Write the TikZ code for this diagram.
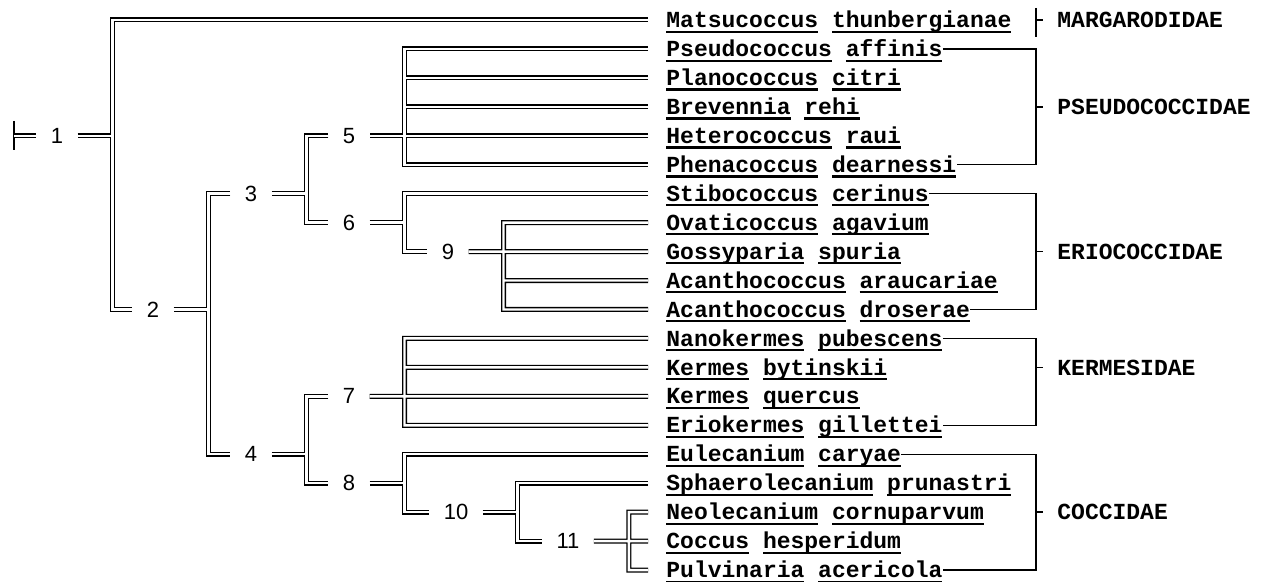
\documentclass[tikz,border=0pt]{standalone}
\usepackage{fontspec}
\usepackage{tikz}
\usetikzlibrary{positioning}
\newfontfamily\typefam{Liberation Mono}
\newfontfamily\numfam{Liberation Sans}
\newcommand{\ulw}[1]{\setbox0\hbox{#1}\rlap{\rule[-2.6pt]{\wd0}{1.1pt}}\box0\relax}
\tikzset{
  taxon/.style={anchor=west, inner xsep=9pt, inner ysep=0pt, font=\typefam\bfseries\fontsize{11.5}{12}\selectfont, text height=9pt, text depth=1.4pt},
  fam/.style={taxon, inner xsep=10.5pt},
  num/.style={inner xsep=7pt, inner ysep=1pt, font=\numfam\fontsize{11}{12}\selectfont},
  tl/.style={double, double distance=1.2pt, line width=0.65pt},
  brk/.style={line width=0.7pt},
}

\begin{document}
\begin{tikzpicture}[x=0.5pt, y=-0.5pt]
  \useasboundingbox (0,0) rectangle (1262,582);
  % taxa, one per typed row
  \foreach \genus/\epith [count=\i from 0] in {Matsucoccus/thunbergianae, Pseudococcus/affinis, Planococcus/citri, Brevennia/rehi, Heterococcus/raui, Phenacoccus/dearnessi, Stibococcus/cerinus, Ovaticoccus/agavium, Gossyparia/spuria, Acanthococcus/araucariae, Acanthococcus/droserae, Nanokermes/pubescens, Kermes/bytinskii, Kermes/quercus, Eriokermes/gillettei, Eulecanium/caryae, Sphaerolecanium/prunastri, Neolecanium/cornuparvum, Coccus/hesperidum, Pulvinaria/acericola}
    \node[taxon] (t\i) at (648, 20+28.95*\i) {\ulw{\genus} \ulw{\epith}};
  % branch points
  \node[num] (n1) at (57,135.8) {1};
  \node[num] (n2) at (153,309.5) {2};
  \node[num] (n3) at (251,193.7) {3};
  \node[num] (n4) at (251,454.25) {4};
  \node[num] (n5) at (349,135.8) {5};
  \node[num] (n6) at (349,222.65) {6};
  \node[num] (n7) at (349,396.35) {7};
  \node[num] (n8) at (349,483.2) {8};
  \node[num] (n9) at (448,251.6) {9};
  \node[num] (n10) at (456,512.15) {10};
  \node[num] (n11) at (568,541.1) {11};
  \foreach \n in {1,...,11} \coordinate[right=17.5pt of n\n] (j\n);
  \coordinate (root) at (14,135.8);
  \draw[brk] ([yshift=7.5pt]root) -- ([yshift=-7pt]root);
  \draw[tl] (root) -- (n1.west);
  \draw[tl] (t0.west) -| (j1) |- (n2.west) (n1.east) -- (j1);
  \draw[tl] (n3.west) -| (j2) |- (n4.west) (n2.east) -- (j2);
  \draw[tl] (n5.west) -| (j3) |- (n6.west) (n3.east) -- (j3);
  \draw[tl] (n7.west) -| (j4) |- (n8.west) (n4.east) -- (j4);
  \draw[tl] (t1.west) -| (j5) |- (t5.west) (t2.west) -- (t2.west -| j5) (t3.west) -- (t3.west -| j5) (t4.west) -- (n5.east);
  \draw[tl] (t6.west) -| (j6) |- (n9.west) (n6.east) -- (j6);
  \draw[tl] (t7.west) -| (j9) |- (t10.west) (t9.west) -- (t9.west -| j9) (t8.west) -- (n9.east);
  \draw[tl] (t11.west) -| (j7) |- (t14.west) (t12.west) -- (t12.west -| j7) (t13.west) -- (n7.east);
  \draw[tl] (t15.west) -| (j8) |- (n10.west) (n8.east) -- (j8);
  \draw[tl] (t16.west) -| (j10) |- (n11.west) (n10.east) -- (j10);
  \draw[tl] (t17.west) -| (j11) |- (t19.west) (t18.west) -- (n11.east);
  % families
  \foreach \f/\r/\name in {0/0/MARGARODIDAE, 1/3/PSEUDOCOCCIDAE, 2/8/ERIOCOCCIDAE, 3/12/KERMESIDAE, 4/17/COCCIDAE}
    \node[fam] (f\f) at (1036, 20+28.95*\r) {\name};
  \draw[brk] ([yshift=6pt]f0.west) -- ([yshift=-8.5pt]f0.west) (f0.west) -- ([xshift=3.5pt]f0.west);
  \foreach \f/\a/\b in {1/1/5, 2/6/10, 3/11/14, 4/15/19}
    \draw[brk] ([xshift=-9pt]t\a.east) -| (f\f.west) |- ([xshift=-9pt]t\b.east) (f\f.west) -- ([xshift=3.5pt]f\f.west);
\end{tikzpicture}
\end{document}
